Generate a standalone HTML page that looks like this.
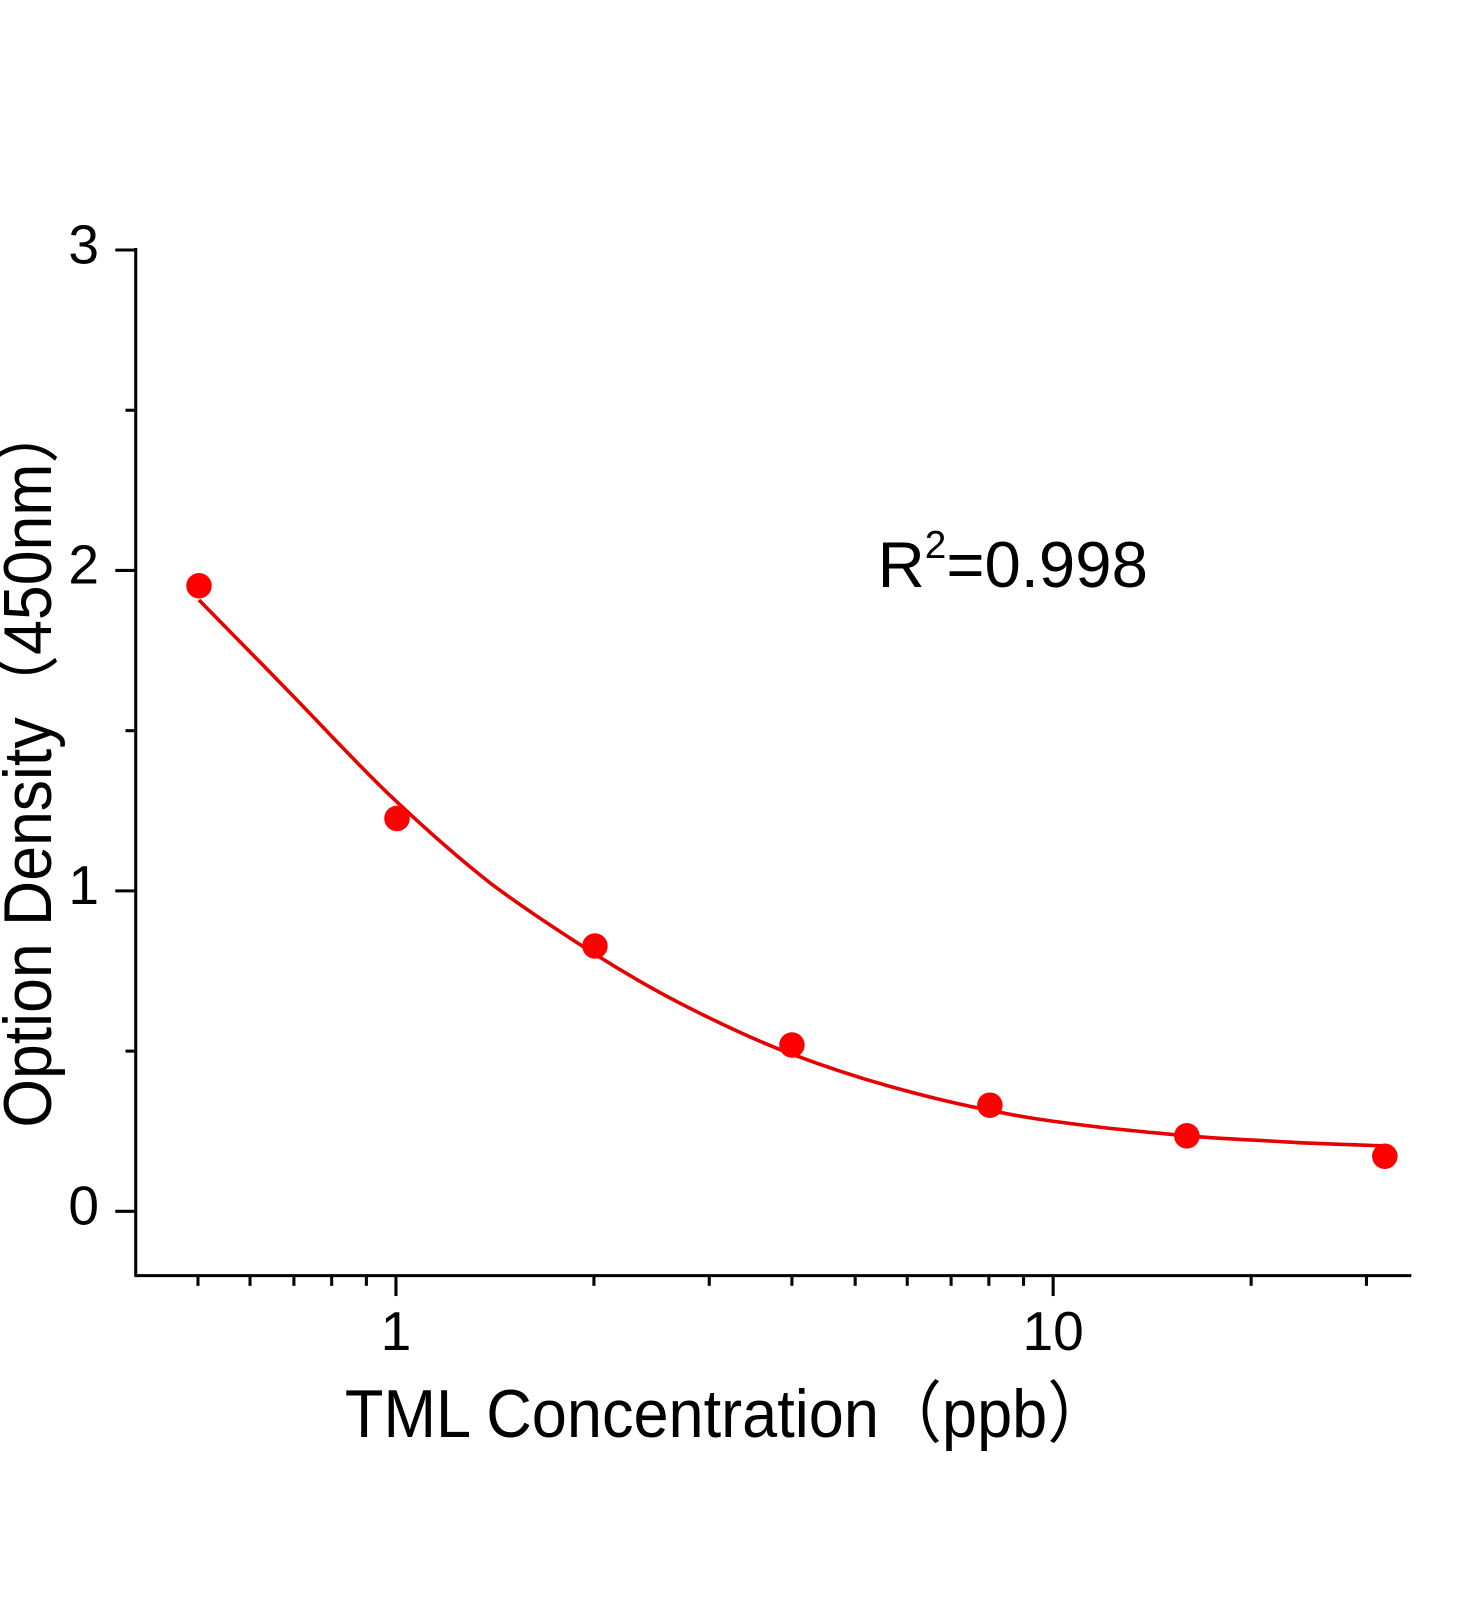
<!DOCTYPE html>
<html><head><meta charset="utf-8"><style>
html,body{margin:0;padding:0;background:#fff;}
svg{display:block;}
text{font-family:"Liberation Sans","Noto Sans CJK SC",sans-serif;fill:#000;}
</style></head><body>
<svg width="1472" height="1600" viewBox="0 0 1472 1600" xmlns="http://www.w3.org/2000/svg">
<g transform="scale(1.0205)">
<g stroke="#000" stroke-width="3" fill="none">
<line x1="133" y1="243" x2="133" y2="1251"/>
<line x1="132" y1="1250" x2="1383" y2="1250"/>
<line x1="133" y1="245" x2="113" y2="245"/>
<line x1="133" y1="559" x2="113" y2="559"/>
<line x1="133" y1="873" x2="113" y2="873"/>
<line x1="133" y1="1187" x2="113" y2="1187"/>
<line x1="133" y1="402" x2="123" y2="402"/>
<line x1="133" y1="716" x2="123" y2="716"/>
<line x1="133" y1="1030" x2="123" y2="1030"/>
<line x1="388" y1="1250" x2="388" y2="1270"/>
<line x1="1032" y1="1250" x2="1032" y2="1270"/>
<line x1="194" y1="1250" x2="194" y2="1260"/>
<line x1="245" y1="1250" x2="245" y2="1260"/>
<line x1="288" y1="1250" x2="288" y2="1260"/>
<line x1="325" y1="1250" x2="325" y2="1260"/>
<line x1="359" y1="1250" x2="359" y2="1260"/>
<line x1="582" y1="1250" x2="582" y2="1260"/>
<line x1="695" y1="1250" x2="695" y2="1260"/>
<line x1="776" y1="1250" x2="776" y2="1260"/>
<line x1="838" y1="1250" x2="838" y2="1260"/>
<line x1="889" y1="1250" x2="889" y2="1260"/>
<line x1="932" y1="1250" x2="932" y2="1260"/>
<line x1="969" y1="1250" x2="969" y2="1260"/>
<line x1="1003" y1="1250" x2="1003" y2="1260"/>
<line x1="1226" y1="1250" x2="1226" y2="1260"/>
<line x1="1339" y1="1250" x2="1339" y2="1260"/>
</g>
<g font-size="54" text-anchor="end">
<text x="97" y="258">3</text>
<text x="97" y="572">2</text>
<text x="97" y="886">1</text>
<text x="97" y="1200">0</text>
</g>
<g font-size="54" text-anchor="middle">
<text x="388" y="1323">1</text>
<text x="1032" y="1323">10</text>
</g>
<text x="338" y="1408" font-size="66" textLength="750" lengthAdjust="spacingAndGlyphs">TML Concentration（ppb）</text>
<text transform="translate(50,1105) rotate(-90)" font-size="66" textLength="712" lengthAdjust="spacingAndGlyphs">Option Density（450nm）</text>
<text x="860" y="575" font-size="64">R<tspan font-size="38" dy="-28">2</tspan><tspan dy="28">=0.998</tspan></text>
<path fill="none" stroke="#e60000" stroke-width="3.5" d="M195,588 C211,604 258,652 290,685 C322,718 356,755 388,785 C420,815 448,840 480,865 C513,890 550,914 583,935 C616,956 648,974 680,990 C712,1006 744,1021 776,1033 C808,1045 838,1055 870,1064 C902,1073 938,1082 970,1088 C1002,1095 1033,1099 1065,1103 C1097,1107 1131,1110 1163,1113 C1196,1116 1228,1117 1260,1119 C1292,1121 1341,1122 1357,1123"/>
<g fill="#f00">
<circle cx="195" cy="574" r="12.5"/>
<circle cx="389" cy="802" r="12.5"/>
<circle cx="583" cy="927" r="12.5"/>
<circle cx="776" cy="1024" r="12.5"/>
<circle cx="970" cy="1083" r="12.5"/>
<circle cx="1163" cy="1113" r="12.5"/>
<circle cx="1357" cy="1133" r="12.5"/>
</g>
</g>
</svg>
</body></html>
